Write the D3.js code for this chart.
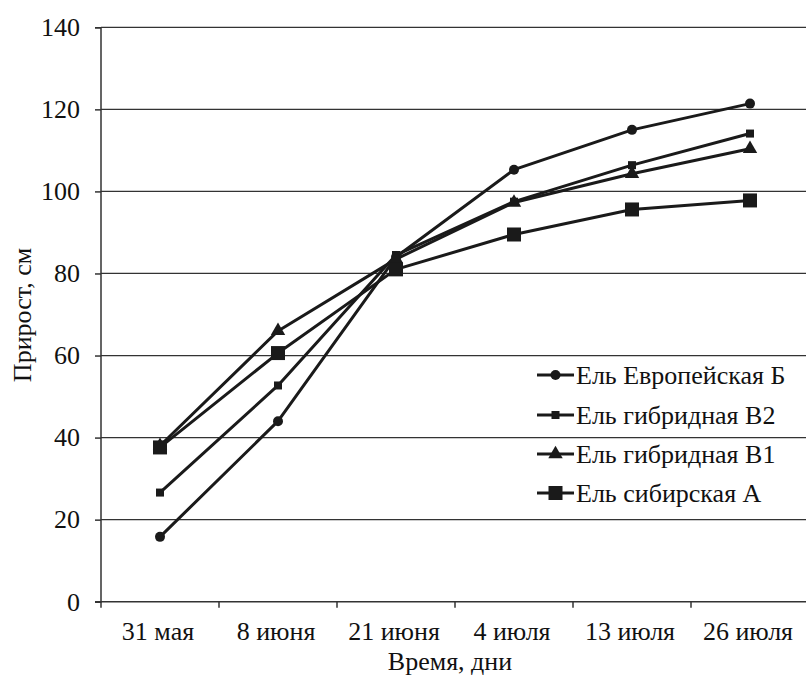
<!DOCTYPE html>
<html>
<head>
<meta charset="utf-8">
<script src="https://cdn.jsdelivr.net/npm/d3@7"></script>
<style>
  html, body { margin: 0; padding: 0; background: #fff; }
  svg { display: block; }
</style>
</head>
<body>
<svg id="chart" width="806" height="677"></svg>
<script>
// Growth of spruce forms by survey date
const dates = ["31 мая", "8 июня", "21 июня", "4 июля", "13 июля", "26 июля"];
const yTicks = [0, 20, 40, 60, 80, 100, 120, 140];

const europeB  = [15.8, 44.0, 84.0, 105.3, 115.0, 121.4];
const hybridB2 = [26.6, 52.7, 84.5, 97.5, 106.4, 114.1];
const hybridB1 = [38.0, 66.0, 83.5, 97.3, 104.3, 110.4];
const siberA   = [37.6, 60.6, 81.0, 89.5, 95.6, 97.8];

const seriesNames = ["Ель Европейская Б", "Ель гибридная В2", "Ель гибридная В1", "Ель сибирская А"];
const seriesValues = [europeB, hybridB2, hybridB1, siberA];
const markerKinds = ["circle", "smallSquare", "triangle", "bigSquare"];

const FONT = "Liberation Serif";
const FS = 26;
const INK = "#1a1a1a";

const svg = d3.select("#chart");
const plotLeft = 101, plotTop = 27.3;
const plotW = 708, plotH = 601.7 - 27.3;

const g = svg.append("g").attr("transform", `translate(${plotLeft},${plotTop})`);

const x = d3.scaleBand().domain(dates).range([0, plotW]).padding(0);
const y = d3.scaleLinear().domain([0, 140]).range([plotH, 0]);

// horizontal gridlines
g.append("g").selectAll("line").data(yTicks.filter(t => t > 0)).join("line")
  .attr("x1", 0).attr("x2", plotW)
  .attr("y1", d => y(d)).attr("y2", d => y(d))
  .attr("stroke", "#333").attr("stroke-width", 1.2);

// y axis
const yAxis = g.append("g").call(d3.axisLeft(y).tickValues(yTicks).tickSize(6).tickPadding(15));
yAxis.attr("font-family", FONT).attr("font-size", FS);
yAxis.select(".domain").attr("stroke", "#333").attr("stroke-width", 1.5).attr("d", `M-6,0.5H0V${plotH}H-6`);
yAxis.selectAll(".tick line").attr("stroke", "#333").attr("stroke-width", 1.5);
yAxis.selectAll(".tick text").attr("fill", "#111");

// x axis with ticks on band boundaries
const xAxisG = g.append("g").attr("transform", `translate(0,${plotH})`);
xAxisG.append("line").attr("x1", -6).attr("x2", plotW).attr("y1", 0).attr("y2", 0)
  .attr("stroke", "#333").attr("stroke-width", 1.5);
xAxisG.selectAll("line.tk").data(dates).join("line").attr("class", "tk")
  .attr("x1", d => x(d)).attr("x2", d => x(d)).attr("y1", 0).attr("y2", 6)
  .attr("stroke", "#333").attr("stroke-width", 1.5);
xAxisG.selectAll("text").data(dates).join("text")
  .attr("x", d => x(d) + x.bandwidth() / 2 - 2).attr("y", 640 - 601.7)
  .attr("text-anchor", "middle")
  .attr("font-family", FONT).attr("font-size", FS).attr("fill", "#111")
  .text(d => d);

// axis titles
svg.append("text").attr("x", 450).attr("y", 670).attr("text-anchor", "middle")
  .attr("font-family", FONT).attr("font-size", FS).attr("fill", "#111")
  .text("Время, дни");
svg.append("text").attr("transform", "translate(31,315) rotate(-90)")
  .attr("text-anchor", "middle")
  .attr("font-family", FONT).attr("font-size", FS).attr("fill", "#111")
  .text("Прирост, см");

// marker drawing
function drawMarker(sel, kind) {
  if (kind === "circle") {
    sel.append("circle").attr("r", 5).attr("fill", INK);
  } else if (kind === "smallSquare") {
    sel.append("rect").attr("x", -4).attr("y", -4).attr("width", 8).attr("height", 8).attr("fill", INK);
  } else if (kind === "triangle") {
    sel.append("path").attr("d", d3.symbol(d3.symbolTriangle, 90)()).attr("fill", INK);
  } else {
    sel.append("rect").attr("x", -7).attr("y", -7).attr("width", 14).attr("height", 14).attr("fill", INK);
  }
}

const line = d3.line().x((d, i) => x(dates[i]) + x.bandwidth() / 2).y(d => y(d));

seriesValues.forEach((vals, si) => {
  g.append("path").datum(vals).attr("d", line)
    .attr("fill", "none").attr("stroke", INK).attr("stroke-width", 3)
    .attr("stroke-linejoin", "round");
  vals.forEach((v, i) => {
    const m = g.append("g").attr("transform", `translate(${x(dates[i]) + x.bandwidth() / 2},${y(v)})`);
    drawMarker(m, markerKinds[si]);
  });
});

// legend
const legend = svg.append("g");
const legendY = [375, 415, 454, 493];
seriesNames.forEach((name, i) => {
  const row = legend.append("g").attr("transform", `translate(0,${legendY[i]})`);
  row.append("line").attr("x1", 537).attr("x2", 574).attr("y1", 0).attr("y2", 0)
    .attr("stroke", INK).attr("stroke-width", 3);
  const m = row.append("g").attr("transform", "translate(555.5,0)");
  drawMarker(m, markerKinds[i]);
  row.append("text").attr("x", 576).attr("y", 8.5)
    .attr("font-family", FONT).attr("font-size", FS).attr("fill", "#111")
    .text(name);
});
</script>
</body>
</html>
